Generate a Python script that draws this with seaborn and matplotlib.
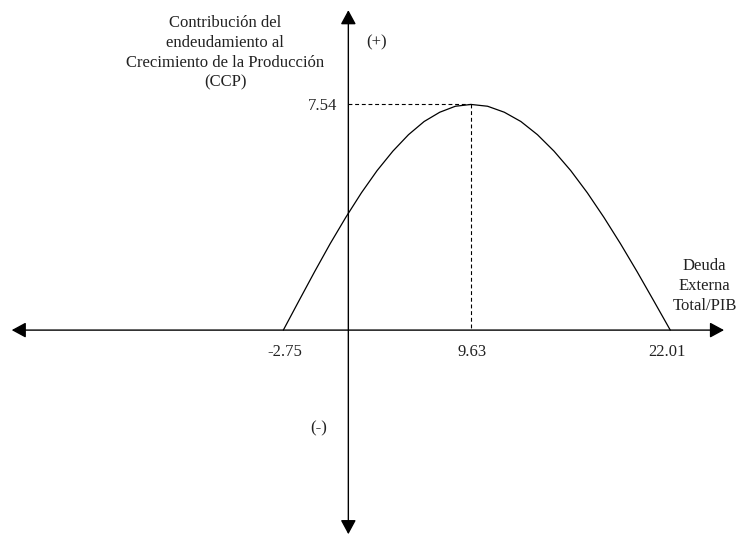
import matplotlib
matplotlib.use('Agg')
import matplotlib.pyplot as plt
import seaborn as sns

# ─────────────────────────────────────────────
# Data
# ─────────────────────────────────────────────
# curve: debt / GDP (x) vs contribution to output growth (y)
curve_x = [-2.75, -1.75, -0.75, 0.25, 1.25, 2.25, 3.25, 4.26, 5.26, 6.26,
           7.26, 8.26, 9.26,
           10.32, 11.39, 12.45, 13.51, 14.57, 15.64, 16.70, 17.76, 18.82,
           19.89, 20.95, 22.01]
curve_y = [0.00, 0.98, 1.95, 2.89, 3.77, 4.59, 5.33, 5.98, 6.53, 6.97,
           7.28, 7.48, 7.54,
           7.48, 7.28, 6.97, 6.53, 5.98, 5.33, 4.59, 3.77, 2.89,
           1.95, 0.98, 0.00]

peak_x = 9.26
peak_y = 7.54
peak_label = '7.54'

tick_labels = ['-2.75', '9.63', '22.01']

y_title = 'Contribución del\nendeudamiento al\nCrecimiento de la Producción\n(CCP)'
x_title = 'Deuda\nExterna\nTotal/PIB'

# ─────────────────────────────────────────────
# Layout (data units of the drawing)
# ─────────────────────────────────────────────
XLIM = (-20.88, 26.28)
YLIM = (-6.88, 11.03)
V_AXIS_X = 1.41
H_ARROW = (-20.13, 25.45)
V_ARROW = (-6.82, 10.69)
TICK_X = [-2.64, 9.32, 21.80]
TICK_Y = -0.73

sns.set_theme(style='white')
plt.rcParams['font.family'] = ['Liberation Serif', 'DejaVu Serif']
FS = 12
TXT = '#222222'

fig = plt.figure(figsize=(7.37, 5.36), dpi=100)
ax = fig.add_axes([0, 0, 1, 1])
ax.set_xlim(*XLIM)
ax.set_ylim(*YLIM)
ax.axis('off')

# axes with arrow heads at both ends
arrow_style = '<|-|>,head_length=0.72,head_width=0.39'
ax.annotate('', xy=(H_ARROW[1], 0), xytext=(H_ARROW[0], 0),
            arrowprops=dict(arrowstyle=arrow_style, color='black', lw=1.0,
                            mutation_scale=12, shrinkA=0, shrinkB=0))
ax.annotate('', xy=(V_AXIS_X, V_ARROW[1]), xytext=(V_AXIS_X, V_ARROW[0]),
            arrowprops=dict(arrowstyle=arrow_style, color='black', lw=1.0,
                            mutation_scale=12, shrinkA=0, shrinkB=0))

# curve
sns.lineplot(x=curve_x, y=curve_y, ax=ax, color='black', lw=0.9,
             sort=False, estimator=None)

# dashed guides to the peak
ax.plot([V_AXIS_X, peak_x], [peak_y, peak_y], color='black', lw=0.8,
        linestyle=(0, (3.5, 2.5)))
ax.plot([peak_x, peak_x], [peak_y, 0.08], color='black', lw=0.8,
        linestyle=(0, (3.5, 2.5)))

# labels
ax.text(0.69, peak_y - 0.06, peak_label, ha='right', va='center', fontsize=FS, color=TXT)
for xp, lab in zip(TICK_X, tick_labels):
    ax.text(xp, TICK_Y, lab, ha='center', va='center', fontsize=FS, color=TXT)

ax.text(3.23, 9.63, '(+)', ha='center', va='center', fontsize=FS, color=TXT)
ax.text(-0.51, -3.28, '(-)', ha='center', va='center', fontsize=FS, color=TXT)

ax.text(-6.48, 9.26, y_title, ha='center', va='center', fontsize=FS,
        color=TXT, linespacing=1.31, multialignment='center')
ax.text(24.20, 1.48, x_title, ha='center', va='center', fontsize=FS,
        color=TXT, linespacing=1.31, multialignment='center')

fig.savefig('out.png', dpi=100)
plt.close(fig)
